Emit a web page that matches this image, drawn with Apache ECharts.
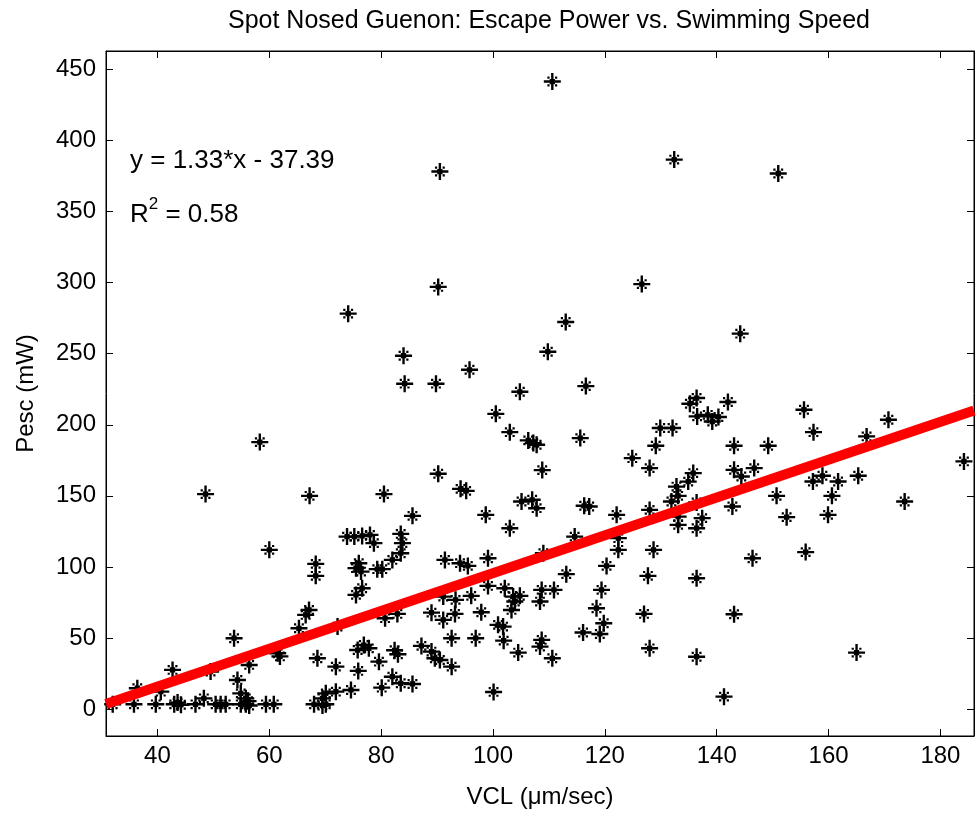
<!DOCTYPE html>
<html><head><meta charset="utf-8">
<script src="https://cdn.jsdelivr.net/npm/echarts@6/dist/echarts.min.js"></script>
<style>html,body{margin:0;padding:0;background:#fff}#c{width:976px;height:814px}</style>
</head><body><div id="c"></div>
<script>
// VCL (µm/sec) and Pesc (mW) for each sample
const vcl = [
 110.6, 90.5, 132.4, 90.2, 126.6, 151.0, 74.1, 84.0, 84.2, 58.3, 48.6, 67.2, 80.5,
 113.0, 109.8, 89.8, 95.8, 104.8, 116.6, 100.5, 103.0, 106.3, 107.2, 107.8, 115.6, 108.8,
 90.2, 94.2, 95.2, 105.1, 107.0, 107.8, 116.3, 117.2, 85.6, 98.7, 122.1, 124.9, 128.0,
 129.1, 129.9, 132.1, 135.2, 136.4, 136.5, 135.8, 134.9, 132.8, 131.9, 133.1, 128.0, 133.1,
 144.2, 138.4, 139.2, 140.3, 142.0, 155.6, 157.3, 170.7, 184.2, 166.8, 143.1, 149.2, 143.1,
 146.7, 144.4, 150.7, 157.2, 158.9, 161.7, 160.6, 165.3, 173.6, 142.8, 136.4, 137.4, 152.5,
 159.9, 60.0, 68.3, 68.3, 73.9, 75.2, 76.6, 78.0, 78.7, 83.5, 83.8, 83.5, 82.0,
 76.0, 76.4, 75.5, 76.6, 75.5, 79.3, 80.2, 66.5, 67.1, 65.3, 80.7, 82.9, 53.7,
 49.5, 42.7, 36.4, 40.6, 32.0, 35.8, 39.7, 43.0, 43.6, 44.2, 46.8, 50.4, 51.3,
 52.2, 54.9, 55.8, 56.4, 59.4, 60.8, 68.0, 69.5, 70.1, 48.3, 54.3, 54.9, 55.8,
 56.2, 69.5, 70.1, 71.9, 71.9, 74.6, 75.9, 79.6, 80.1, 82.0, 75.8, 76.9, 77.8,
 82.4, 83.0, 68.6, 61.5, 61.9, 56.4, 83.5, 72.2, 103.0, 133.1, 136.4, 122.4, 122.4,
 128.7, 120.3, 127.7, 136.4, 119.4, 118.5, 119.8, 119.1, 116.1, 127.0, 128.0, 136.4, 113.1,
 109.0, 114.6, 91.4, 94.1, 95.5, 99.1, 99.1, 102.1, 103.6, 104.8, 103.9, 103.3, 108.7,
 110.9, 108.4, 91.1, 93.3, 96.1, 97.9, 93.2, 89.0, 91.1, 100.9, 101.8, 101.9, 92.6,
 96.9, 104.5, 108.7, 108.4, 110.6, 87.2, 89.0, 89.6, 90.5, 92.6, 85.6, 100.1, 146.4,
 155.9, 143.1, 165.0, 141.3
];
const pesc = [
 441.5, 378.2, 386.6, 297, 299, 376.8, 278.2, 248.6, 228.9, 187.8, 151.2, 150, 151.2,
 272.3, 251.4, 228.9, 238.7, 223.2, 227.2, 207.7, 194.8, 189, 187.1, 185.9, 190.6, 168.1,
 165.5, 154.9, 153.5, 146, 147.2, 141.3, 143, 142.5, 135.9, 136.6, 136.6, 176.5, 169.5,
 185.2, 197.7, 197.7, 214.8, 218.8, 205.9, 166, 160, 156.5, 146, 150, 140.1, 135.4,
 264.1, 207, 202.3, 205.5, 216, 210.6, 194.8, 203.5, 174.2, 191.8, 185.2, 185.2, 168.3,
 169.5, 163.6, 150, 160.1, 164.1, 160.1, 150, 164.1, 146, 142.5, 145.3, 134.3, 135,
 136.6, 112, 102.1, 93.7, 121.3, 121.3, 121.8, 122.5, 116.7, 123.2, 116.7, 109.6, 104.9,
 102.6, 96.7, 99.1, 85, 80.3, 98.4, 98.4, 66.2, 69.7, 56.8, 63.9, 66.9, 49.8,
 26.3, 27.5, 14.6, 12.2, 3.3, 3.3, 3.3, 3.3, 4.5, 3.0, 3.3, 3.3, 3.3,
 3.3, 3.3, 3.3, 2.5, 3.3, 3.3, 3.3, 2.5, 3.3, 7.5, 20.4, 11, 7.5,
 5.5, 7.5, 11, 29.8, 12.2, 13.4, 26.8, 33.3, 15, 22.7, 41.5, 45, 42.7,
 41.3, 38.5, 35.7, 39.2, 37, 31, 18.1, 58, 127.2, 129.6, 127.2, 120.2, 112,
 112, 100.7, 93.7, 92, 83.8, 70.9, 60.3, 52.8, 53.8, 66.9, 42.7, 36.8, 94.9,
 109.6, 121.3, 104.9, 102.6, 100.7, 106.1, 86.6, 85, 79.1, 79.6, 75.6, 69.7, 83.8,
 83.8, 75.6, 79.1, 76.8, 79.6, 68.1, 66.9, 67.8, 62.7, 59.2, 58, 48.1, 49.8,
 49.8, 39.7, 48.6, 43.9, 35.7, 44.4, 40.4, 35.7, 34.5, 29.8, 17.6, 12, 106.1,
 110.4, 66.7, 39.7, 8.7
];
// Least-squares fit shown on the chart
const fitSlope = 1.33;
const fitIntercept = -37.39;
const fitR2 = 0.58;
// Axis ranges
const xRange = [30.8, 186];
const yRange = [-19, 463];

const FONT = "'Liberation Sans', Arial, Helvetica, sans-serif";
const chart = echarts.init(document.getElementById('c'), null, {renderer: 'canvas'});

const points = vcl.map((v, i) => [v, pesc[i]]);
const fitLine = xRange.map(x => [x, fitSlope * x + fitIntercept]);

const starPath = 'path://M0 8.6H20V11.4H0Z M8.6 0H11.4V20H8.6Z M6.9 6.9H13.1V13.1H6.9Z ' +
  'M4.2 4.2H6.8V6.8H4.2Z M13.2 4.2H15.8V6.8H13.2Z M4.2 13.2H6.8V15.8H4.2Z M13.2 13.2H15.8V15.8H13.2Z';

const axisBase = {
  type: 'value',
  splitLine: {show: false},
  axisLine: {show: true, onZero: false, lineStyle: {color: '#000', width: 1}},
  axisTick: {show: true, inside: true, length: 7, lineStyle: {color: '#000', width: 1}}
};
const labelStyle = {fontSize: 24, fontFamily: FONT, color: '#000', showMinLabel: false, showMaxLabel: false};

chart.setOption({
  animation: false,
  backgroundColor: '#fff',
  title: {
    text: 'Spot Nosed Guenon: Escape Power vs. Swimming Speed',
    left: 544, top: 4, textAlign: 'center',
    textStyle: {fontSize: 25, fontWeight: 'normal', fontFamily: FONT, color: '#000'}
  },
  grid: {left: 106, right: 2, top: 51, bottom: 78, show: true, borderColor: '#000', borderWidth: 1},
  xAxis: [
    Object.assign({}, axisBase, {
      position: 'bottom', min: xRange[0], max: xRange[1], splitNumber: 8,
      axisLabel: Object.assign({margin: 8}, labelStyle),
      name: 'VCL (\u03bcm/sec)', nameLocation: 'middle', nameGap: 49,
      nameTextStyle: {fontSize: 24, fontFamily: FONT, color: '#000'}
    }),
    Object.assign({}, axisBase, {
      position: 'top', min: xRange[0], max: xRange[1], splitNumber: 8,
      axisLabel: {show: false}
    })
  ],
  yAxis: [
    Object.assign({}, axisBase, {
      position: 'left', min: yRange[0], max: yRange[1], splitNumber: 10,
      axisLabel: Object.assign({margin: 10}, labelStyle),
      name: 'Pesc (mW)', nameLocation: 'middle', nameGap: 68,
      nameTextStyle: {fontSize: 24, fontFamily: FONT, color: '#000'}
    }),
    Object.assign({}, axisBase, {
      position: 'right', min: yRange[0], max: yRange[1], splitNumber: 10,
      axisLabel: {show: false}
    })
  ],
  graphic: [
    {
      type: 'text', left: 130, top: 148, z: 10,
      style: {
        text: '{a|y = ' + fitSlope.toFixed(2) + '*x - ' + Math.abs(fitIntercept).toFixed(2) + '}',
        rich: {a: {fontSize: 26, fontFamily: FONT, lineHeight: 38, verticalAlign: 'middle', fill: '#000'}}
      }
    },
    {
      type: 'text', left: 130, top: 196, z: 10,
      style: {
        text: '{a|R}{s|2}{a| = ' + fitR2.toFixed(2) + '}',
        rich: {
          a: {fontSize: 26, fontFamily: FONT, lineHeight: 38, verticalAlign: 'middle', fill: '#000'},
          s: {fontSize: 17, fontFamily: FONT, lineHeight: 17, verticalAlign: 'top', fill: '#000'}
        }
      }
    }
  ],
  series: [
    {
      type: 'scatter', xAxisIndex: 0, yAxisIndex: 0,
      data: points, symbol: starPath, symbolSize: 17,
      itemStyle: {color: '#000', opacity: 1}, z: 2, silent: true
    },
    {
      type: 'line', xAxisIndex: 0, yAxisIndex: 0,
      data: fitLine, symbol: 'none', z: 3, silent: true,
      lineStyle: {color: '#ff0000', width: 10, cap: 'butt', opacity: 1}
    }
  ]
});
</script>
</body></html>
